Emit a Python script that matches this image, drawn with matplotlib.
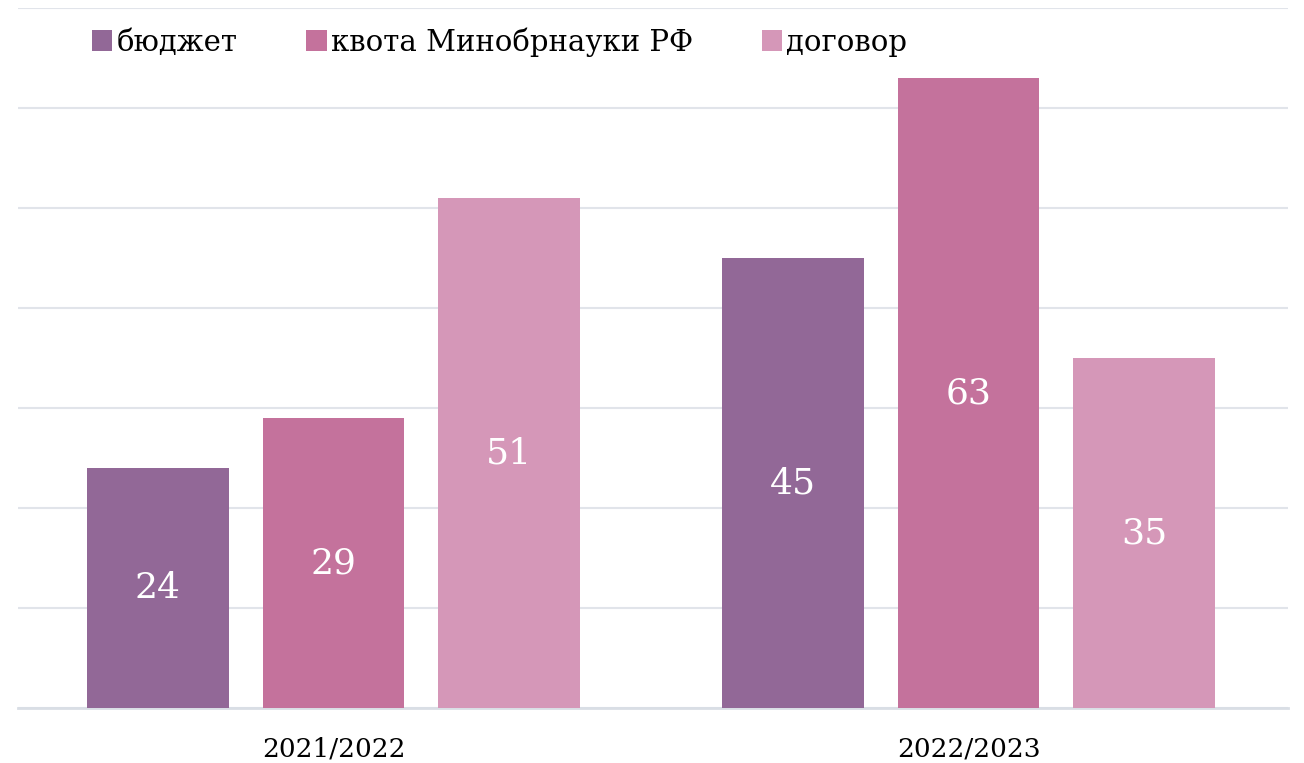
import matplotlib.pyplot as plt
import numpy as np

years = ['2021/2022', '2022/2023']
series = ['бюджет', 'квота Минобрнауки РФ', 'договор']
budget = [24, 45]
quota = [29, 63]
contract = [51, 35]
colors = ['#926897', '#C4729C', '#D597B8']

plt.rcParams['font.family'] = ['DejaVu Serif']

fig = plt.figure(figsize=(13.04, 7.63), dpi=100)
ax = fig.add_axes([18 / 1304, 1 - 708 / 763, 1270 / 1304, 700 / 763])

x = np.arange(len(years))
width = 0.2233
step = 0.2767
for i, (name, vals) in enumerate(zip(series, [budget, quota, contract])):
    pos = x + (i - 1) * step
    bars = ax.bar(pos, vals, width, color=colors[i], label=name, zorder=3)
    for b, v in zip(bars, vals):
        ax.text(b.get_x() + b.get_width() / 2, v / 2, str(v), ha='center', va='center',
                color='white', fontsize=26, zorder=4)

ax.set_xlim(-0.497, 1.503)
ax.set_ylim(0, 70)
ax.set_yticks(np.arange(0, 71, 10))
ax.yaxis.grid(True, color='#E1E4EA', linewidth=1.5, zorder=0)
ax.tick_params(axis='y', left=False, labelleft=False)
ax.tick_params(axis='x', bottom=False, labelsize=19, pad=17)
ax.set_xticks(x)
ax.set_xticklabels(years)
for s in ['top', 'right', 'left']:
    ax.spines[s].set_visible(False)
ax.spines['bottom'].set_color('#D9DEE5')
ax.spines['bottom'].set_linewidth(2)

leg = ax.legend(loc='upper left', bbox_to_anchor=(0.0375, 1.01), ncol=3, frameon=False,
                fontsize=21, handlelength=0.7, handleheight=0.7, handletextpad=0.15,
                columnspacing=2.35)

fig.savefig('out.png', dpi=100)
